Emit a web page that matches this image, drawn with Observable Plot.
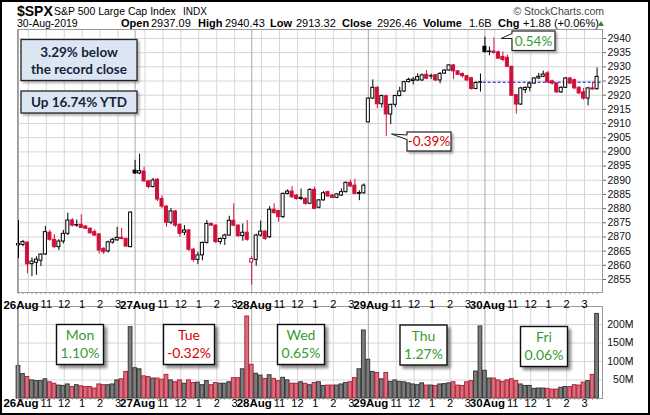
<!DOCTYPE html>
<html><head><meta charset="utf-8">
<script src="https://cdn.jsdelivr.net/npm/d3@7"></script>
<script src="https://cdn.jsdelivr.net/npm/@observablehq/plot@0.6"></script>
<style>
html,body{margin:0;padding:0;background:#fff;overflow:hidden;}
#wrap{position:relative;width:650px;height:415px;overflow:hidden;font-family:"Liberation Sans",Arial,sans-serif;}
#wrap svg{position:absolute;left:0;}
#border{position:absolute;left:0;top:0;width:646px;height:411px;border:2px solid #000;pointer-events:none;}
</style></head>
<body><div id="wrap"></div>
<script>
// ---- data (15-minute bars, 26 per day, 26-30 Aug 2019) ----
const days = ["26Aug","27Aug","28Aug","29Aug","30Aug"];
const hourLabels = ["11","12","1","2","3"];
const hourSlots = [6,10,14,18,22];     // bar slot of each hour label within a day
const gridSlots = [2,6,10,14,18,22];   // 10,11,12,1,2,3 o'clock
const prevClose0 = 2847.11;            // close of 23-Aug
const prevDayClose = 2924.58;          // dashed line (close of 29-Aug)
const priceTicks = [2855,2860,2865,2870,2875,2880,2885,2890,2895,2900,2905,2910,2915,2920,2925,2930,2935,2940];
const volTicks = [50e6,100e6,150e6,200e6];

const open = [
 2867.0,2867.2,2868.0,2860.4,2860.9,2861.6,2863.8,2871.5,2869.0,2866.4,2868.4,2871.1,2875.8,2874.0,2874.3,2873.7,2872.9,2871.7,2870.9,2865.8,2864.9,2868.0,2868.8,2869.7,2869.3,2866.4,
 2893.4,2892.4,2893.1,2889.6,2887.6,2890.2,2883.4,2880.7,2875.0,2879.0,2874.3,2871.5,2872.3,2865.5,2861.9,2863.5,2867.9,2874.6,2874.0,2868.2,2869.3,2870.5,2875.7,2874.0,2870.3,2871.5,
 2861.0,2861.9,2870.5,2871.9,2869.9,2879.6,2879.1,2877.0,2885.2,2886.0,2884.6,2883.4,2883.4,2881.7,2886.6,2880.3,2882.9,2885.8,2884.6,2883.8,2884.6,2885.8,2889.1,2888.1,2885.2,2885.4,
 2910.4,2918.8,2922.6,2916.8,2919.6,2913.2,2916.6,2919.7,2921.3,2924.6,2925.0,2925.2,2925.2,2927.2,2926.6,2927.0,2925.2,2927.6,2928.7,2930.5,2928.4,2927.5,2926.7,2926.0,2922.2,2924.4,
 2937.09,2935.2,2935.4,2935.1,2933.5,2933.2,2930.0,2920.0,2916.7,2921.8,2922.6,2924.1,2925.9,2926.5,2927.7,2924.9,2924.1,2921.0,2922.6,2925.9,2925.3,2922.6,2921.0,2918.8,2922.4,2922.1];
const high = [
 2875.8,2868.8,2868.2,2862.6,2863.0,2864.0,2873.7,2872.3,2870.8,2869.0,2872.3,2878.4,2876.5,2876.0,2877.8,2874.0,2873.2,2872.5,2871.2,2866.2,2868.5,2869.5,2873.4,2873.0,2869.6,2878.8,
 2897.0,2899.2,2894.6,2890.0,2890.7,2890.5,2884.5,2881.0,2880.0,2879.3,2874.6,2874.0,2872.6,2866.0,2864.6,2868.2,2875.8,2874.9,2874.3,2869.6,2871.0,2877.3,2881.7,2874.3,2874.6,2875.8,
 2863.0,2871.0,2875.6,2872.2,2880.7,2881.7,2879.4,2885.5,2886.6,2887.8,2885.0,2886.9,2883.8,2887.0,2887.6,2883.2,2886.0,2886.2,2885.0,2885.3,2886.9,2889.4,2890.1,2890.4,2886.3,2888.7,
 2919.0,2925.4,2923.0,2920.0,2920.0,2916.8,2920.0,2922.8,2924.9,2926.0,2926.3,2927.5,2927.5,2928.7,2927.5,2927.3,2928.0,2929.0,2930.7,2930.8,2928.6,2927.8,2927.0,2926.3,2924.8,2927.5,
 2940.43,2937.0,2940.2,2935.6,2935.3,2934.1,2930.3,2920.3,2922.8,2922.9,2924.5,2926.2,2927.7,2928.5,2928.3,2925.3,2924.4,2923.0,2926.2,2926.3,2925.7,2923.0,2922.4,2922.8,2924.6,2929.6];
const low = [
 2862.4,2866.5,2857.0,2856.0,2856.5,2859.6,2863.5,2868.5,2866.0,2865.2,2867.5,2870.5,2873.5,2873.4,2873.0,2872.6,2871.0,2870.2,2864.0,2863.8,2864.3,2867.5,2868.5,2869.0,2866.4,2866.2,
 2892.0,2892.0,2889.3,2887.0,2887.3,2882.5,2880.0,2873.4,2874.3,2873.4,2869.9,2870.5,2864.8,2861.1,2860.2,2861.6,2867.5,2873.7,2867.6,2867.2,2867.0,2870.2,2873.7,2869.8,2868.5,2868.5,
 2853.0,2859.7,2870.0,2868.8,2869.5,2878.0,2875.2,2876.5,2884.8,2883.6,2883.0,2882.8,2881.2,2881.4,2879.6,2879.9,2882.6,2884.0,2883.5,2883.5,2884.3,2885.5,2887.5,2884.9,2882.8,2885.1,
 2910.3,2918.5,2915.3,2915.5,2905.4,2909.6,2915.6,2919.4,2921.0,2924.3,2923.6,2924.8,2924.9,2925.5,2925.5,2924.8,2924.0,2927.3,2928.4,2925.5,2926.9,2926.0,2924.8,2921.8,2921.9,2921.1,
 2934.9,2933.9,2934.5,2932.6,2931.8,2929.8,2919.5,2913.32,2916.4,2920.6,2921.2,2923.8,2925.5,2926.2,2924.2,2923.6,2920.6,2920.6,2922.4,2923.8,2921.9,2920.3,2918.2,2916.2,2921.8,2921.8];
const close = [
 2867.5,2868.2,2860.3,2861.3,2862.0,2863.8,2871.7,2869.0,2866.4,2868.4,2871.1,2875.8,2874.0,2874.2,2873.2,2872.9,2871.3,2870.5,2865.2,2864.6,2868.1,2869.0,2869.7,2869.3,2866.6,2878.6,
 2892.4,2893.2,2889.6,2887.6,2889.9,2883.2,2880.7,2875.0,2879.0,2874.0,2871.1,2872.3,2865.5,2861.9,2863.5,2867.9,2874.6,2874.0,2868.2,2869.3,2870.5,2875.7,2874.0,2870.3,2871.5,2869.0,
 2862.2,2870.5,2871.9,2869.3,2879.6,2878.4,2877.0,2885.2,2886.0,2884.0,2883.4,2883.8,2881.7,2886.6,2879.9,2882.9,2885.4,2884.3,2883.8,2885.0,2885.8,2889.1,2887.8,2885.2,2885.5,2888.1,
 2918.8,2922.6,2916.8,2919.7,2913.2,2916.6,2919.7,2921.3,2924.6,2925.4,2925.5,2926.4,2927.0,2925.8,2926.7,2925.2,2927.5,2928.7,2930.5,2928.4,2927.2,2926.7,2925.2,2922.2,2924.3,2924.58,
 2935.2,2935.4,2934.9,2932.9,2932.4,2930.0,2919.8,2916.7,2922.4,2922.6,2924.1,2925.9,2926.5,2927.3,2924.5,2924.1,2921.0,2922.6,2925.9,2924.1,2922.4,2920.6,2918.8,2922.4,2922.0,2926.46];
// volume in millions
const volume = [
 88,66,58,49,47,47,52,44,40,35,34,38,31,36,33,31,31,27,38,36,36,38,49,52,72,193,
 82,79,60,58,54,54,51,64,49,44,49,40,49,42,43,36,47,36,42,40,40,44,55,55,79,222,
 91,67,62,53,63,53,47,56,49,40,40,44,40,36,42,44,34,35,35,35,38,42,44,55,79,184,
 105,72,69,52,69,45,49,45,44,41,38,36,41,35,35,34,38,39,41,44,35,34,44,47,73,195,
 75,54,54,49,45,49,52,47,38,34,34,26,27,27,26,24,24,29,31,31,36,35,43,47,64,229];

// ---- derived tables ----
const RED = "#d0103a";
const perDay = 26;
const bars = close.map((c, i) => {
  const pc = i === 0 ? prevClose0 : close[i - 1];
  const up = c >= pc;
  const filled = c < open[i];
  return {
    i, o: open[i], h: high[i], l: low[i], c, v: volume[i] * 1e6,
    stroke: up ? "#000" : RED,
    fill: filled ? (up ? "#000" : RED) : "#fff",
    vfill: up ? "#7c7c7c" : "#d86f7c",
    vstroke: up ? "#383838" : "#b3233d"
  };
});
const dayTicks = days.map((d, k) => ({x: k * perDay, label: d}));
const hourTicks = [];
days.forEach((d, k) => hourSlots.forEach((s, j) => hourTicks.push({x: k * perDay + s + 0.2, label: hourLabels[j]})));
const gridX = [];
days.forEach((d, k) => gridSlots.forEach(s => gridX.push(k * perDay + s + 0.2)));
const dayX = days.map((d, k) => k * perDay);
const idx = bars.map(b => b.i);

const xDomain = [-0.22, 130.21];
const font = "Liberation Sans, Arial, sans-serif";
const GRID = "#d6d6d6", DAYLINE = "#a9a9a9", FRAME = "#9a9a9a";

const yDom = [2850.41, 2943.17];
const price = Plot.plot({
  width: 650, height: 300,
  marginLeft: 17, marginRight: 48, marginTop: 29, marginBottom: 8,
  style: {background: "transparent", fontFamily: font, fontSize: "10.5px", overflow: "visible"},
  x: {domain: xDomain, axis: null},
  y: {domain: yDom, axis: null},
  color: {type: "identity"},
  marks: [
    Plot.gridY(priceTicks, {stroke: GRID, strokeOpacity: 1}),
    Plot.ruleX(gridX, {stroke: GRID}),
    Plot.ruleX(dayX, {stroke: DAYLINE}),
    Plot.ruleY([prevDayClose], {x1: 103.6, x2: xDomain[1], stroke: "#0000cc", strokeDasharray: "3,2"}),
    Plot.ruleX(bars, {x: "i", y1: "l", y2: "h", stroke: "stroke"}),
    Plot.rect(bars, {x1: d => d.i - 0.34, x2: d => d.i + 0.34, y1: "o", y2: "c", fill: "fill", stroke: "stroke", strokeWidth: 1}),
    Plot.frame({stroke: FRAME}),
    Plot.ruleX(idx, {y1: yDom[0], y2: yDom[0] - 0.75, stroke: "#999"}),
    Plot.axisY(priceTicks, {anchor: "right", label: null, tickSize: 3, tickPadding: 2, stroke: "#666", fill: "#111", fontSize: 10.5, tickFormat: d => String(d)})
  ]
});
price.style.top = "0px";

const vDom = [0, 249e6];
const vol = Plot.plot({
  width: 650, height: 123,
  marginLeft: 17, marginRight: 48, marginTop: 14, marginBottom: 17,
  style: {background: "transparent", fontFamily: font, fontSize: "10.5px", overflow: "visible"},
  x: {domain: xDomain, axis: null},
  y: {domain: vDom, axis: null},
  color: {type: "identity"},
  marks: [
    Plot.gridY(volTicks, {stroke: GRID, strokeOpacity: 1}),
    Plot.ruleX(gridX, {stroke: GRID}),
    Plot.ruleX(dayX, {stroke: DAYLINE}),
    Plot.rect(bars, {x1: d => d.i - 0.42, x2: d => d.i + 0.42, y1: 0, y2: "v", fill: "vfill", stroke: "vstroke", strokeWidth: 1}),
    Plot.frame({stroke: FRAME}),
    Plot.ruleX(idx, {y1: 0, y2: -5.3e6, stroke: "#999"}),
    Plot.axisY(volTicks, {anchor: "right", label: null, tickSize: 3, tickPadding: 3, textAnchor: "end", dx: 25, stroke: "#666", fill: "#111", fontSize: 10.5, tickFormat: d => (d / 1e6) + "M"}),
    Plot.text(dayTicks, {x: "x", text: "label", frameAnchor: "top", dy: -6, dx: 2.5, fontWeight: "bold", fontSize: 11.5, fill: "#000"}),
    Plot.text(hourTicks, {x: "x", text: "label", frameAnchor: "top", dy: -6, fontSize: 11, fill: "#000"}),
    Plot.text(dayTicks, {x: "x", text: "label", frameAnchor: "bottom", dy: 8, dx: 2.5, fontWeight: "bold", fontSize: 11.5, fill: "#000"}),
    Plot.text(hourTicks, {x: "x", text: "label", frameAnchor: "bottom", dy: 8, fontSize: 11, fill: "#000"})
  ]
});
vol.style.top = "292px";

const wrap = document.getElementById("wrap");
wrap.appendChild(price);
wrap.appendChild(vol);

// ---- header and annotations ----
const GREEN = "#3a9a32", TRED = "#d60000", BOXTXT = "#17233b";
const volBoxes = [
  {x: 56.5, y: 324.5, w: 47, day: "Mon", pct: "1.10%", col: GREEN},
  {x: 163.5, y: 324.5, w: 51, day: "Tue", pct: "-0.32%", col: TRED},
  {x: 277.5, y: 324.5, w: 47, day: "Wed", pct: "0.65%", col: GREEN},
  {x: 400, y: 325, w: 47, day: "Thu", pct: "1.27%", col: GREEN},
  {x: 520.5, y: 326.5, w: 47, day: "Fri", pct: "0.06%", col: GREEN}
];
const hdr = [
  ["Open", true, 121], ["2937.09", false, 151], ["High", true, 198], ["2940.43", false, 225],
  ["Low", true, 270], ["2913.32", false, 296], ["Close", true, 342], ["2926.46", false, 377],
  ["Volume", true, 423], ["1.6B", false, 469], ["Chg", true, 498], ["+1.88 (+0.06%)", false, 523]
];
let s = `<svg width="650" height="415" style="top:0" font-family="${font}">
<defs><filter id="sh" x="-20%" y="-20%" width="150%" height="150%"><feDropShadow dx="3" dy="3" stdDeviation="1.6" flood-color="#000" flood-opacity="0.45"/></filter>
<filter id="sh2" x="-20%" y="-20%" width="150%" height="150%"><feDropShadow dx="2" dy="2" stdDeviation="1.2" flood-color="#000" flood-opacity="0.3"/></filter></defs>
<text x="17" y="15.5" font-size="14" font-weight="bold">$SPX</text>
<text x="54" y="15" font-size="10.5">S&amp;P 500 Large Cap Index</text>
<text x="183" y="15" font-size="10">INDX</text>
<text x="604" y="15" font-size="10.5" text-anchor="end" fill="#444">© StockCharts.com</text>
<text x="17" y="27" font-size="10.5">30-Aug-2019</text>`;
hdr.forEach(([t, b, x]) => { s += `<text x="${x}" y="27" font-size="11" ${b ? 'font-weight="bold"' : ''}>${t}</text>`; });
s += `<polygon points="598,26 604,26 601,21" fill="#2e8b2e"/>`;
// blue boxes
s += `<g font-family="Lato" font-weight="bold" font-size="13.5" fill="${BOXTXT}" text-anchor="middle">
<rect x="21" y="39.5" width="116" height="41" fill="#dce6f2" stroke="#222" stroke-width="1.3" filter="url(#sh2)"/>
<text x="79" y="56.5">3.29% below</text><text x="79" y="73.8">the record close</text>
<rect x="21" y="91" width="116" height="22" fill="#dce6f2" stroke="#222" stroke-width="1.3" filter="url(#sh2)"/>
<text x="79" y="106.8">Up 16.74% YTD</text></g>`;
// callouts
s += `<g font-family="Lato" font-size="13.5" text-anchor="middle">
<rect x="512" y="31" width="43" height="19.5" fill="#fff" stroke="#222" stroke-width="1.2" filter="url(#sh2)"/>
<polygon points="512.8,33.5 501,38.5 512.8,38.5" fill="#fff"/>
<polyline points="512,33.5 501,38.5 512,38.5" fill="none" stroke="#222" stroke-width="1"/>
<text x="533.5" y="45.6" fill="${GREEN}">0.54%</text>
<rect x="407" y="132" width="44" height="19" fill="#fff" stroke="#222" stroke-width="1.2" filter="url(#sh2)"/>
<polygon points="407.8,135 391.5,134 407.8,139.5" fill="#fff"/>
<polyline points="407,135 391.5,134 407,139.5" fill="none" stroke="#222" stroke-width="1"/>
<text x="429" y="146.3" fill="${TRED}">-0.39%</text></g>`;
// day boxes in volume panel
s += `<g font-family="Lato" font-size="14" text-anchor="middle">`;
volBoxes.forEach(b => {
  const cx = b.x + b.w / 2;
  s += `<rect x="${b.x}" y="${b.y}" width="${b.w}" height="40" fill="#fff" stroke="#111" stroke-width="1.4" filter="url(#sh)"/>
<text x="${cx}" y="${b.y + 15.5}" fill="${b.col}">${b.day}</text>
<text x="${cx}" y="${b.y + 33.5}" fill="${b.col}">${b.pct}</text>`;
});
s += `</g></svg>`;
wrap.insertAdjacentHTML("beforeend", s);
wrap.insertAdjacentHTML("beforeend", `<div id="border"></div>`);
</script>
</body></html>
